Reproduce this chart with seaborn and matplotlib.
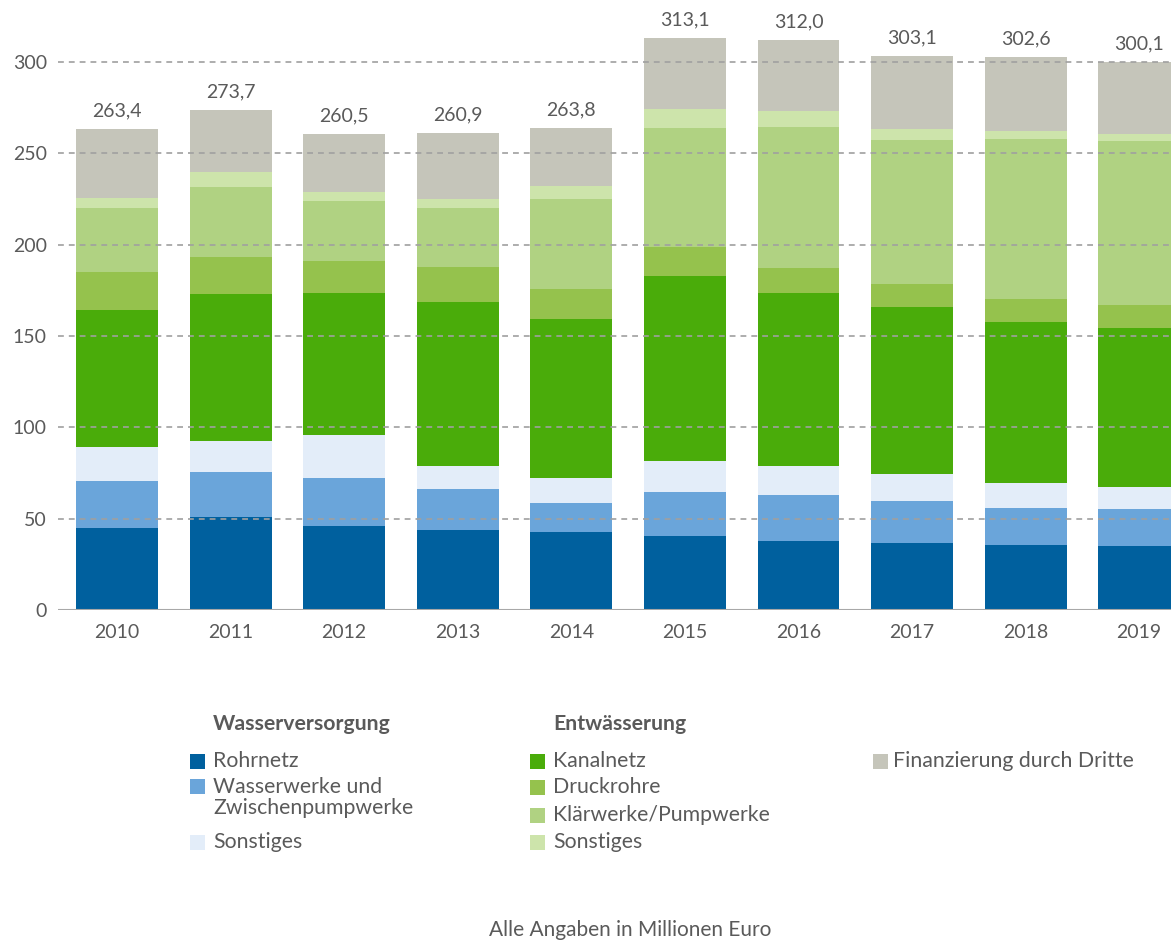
import matplotlib
matplotlib.use("Agg")
import matplotlib.pyplot as plt
import seaborn as sns
import numpy as np
import pandas as pd
from matplotlib.patches import Rectangle

years = ["2010", "2011", "2012", "2013", "2014", "2015", "2016", "2017", "2018", "2019"]
rohrnetz = [44.8, 50.8, 46.2, 43.9, 42.8, 40.6, 38.0, 36.5, 35.6, 34.9]
wasserwerke = [25.7, 25.0, 26.0, 22.6, 15.9, 23.9, 24.9, 23.4, 20.3, 20.5]
sonstiges_w = [18.7, 16.7, 23.4, 12.3, 13.8, 17.2, 16.0, 14.8, 13.7, 12.0]
kanalnetz = [75.3, 80.4, 78.0, 89.9, 86.9, 101.0, 94.9, 90.9, 87.9, 87.0]
druckrohre = [20.8, 20.3, 17.4, 19.2, 16.6, 15.9, 13.3, 12.6, 12.5, 12.6]
klaerwerke = [34.5, 38.5, 32.9, 31.9, 49.0, 65.5, 77.2, 79.3, 88.0, 89.6]
sonstiges_e = [5.7, 7.9, 5.1, 5.2, 7.3, 9.9, 8.6, 5.7, 4.2, 4.0]
dritte = [37.9, 34.1, 31.5, 35.9, 31.5, 39.1, 39.1, 39.9, 40.4, 39.5]
totals = [263.4, 273.7, 260.5, 260.9, 263.8, 313.1, 312.0, 303.1, 302.6, 300.1]
yticks = [0, 50, 100, 150, 200, 250, 300]

series_names = ["Rohrnetz", "Wasserwerke und\nZwischenpumpwerke", "Sonstiges",
                "Kanalnetz", "Druckrohre", "Klärwerke/Pumpwerke", "Sonstiges",
                "Finanzierung durch Dritte"]
series = [rohrnetz, wasserwerke, sonstiges_w, kanalnetz, druckrohre,
          klaerwerke, sonstiges_e, dritte]
colors = ["#00609e", "#6aa5da", "#e3edf9", "#4aac0a", "#95c24d",
          "#b0d282", "#cde4ab", "#c5c5ba"]

sns.set_theme(style="white")
plt.rcParams["font.family"] = ["Lato", "DejaVu Sans"]
text_col = "#5a5a5a"

fig = plt.figure(figsize=(11.71, 9.42), dpi=100)
ax = fig.add_axes([58 / 1171, 332 / 942, 1 - 58 / 1171, 610 / 942])

cum = np.cumsum(np.array(series), axis=0)
for i in reversed(range(len(series))):
    df = pd.DataFrame({"year": years, "value": cum[i]})
    sns.barplot(data=df, x="year", y="value", color=colors[i], width=0.72,
                saturation=1, linewidth=0, ax=ax, order=years, zorder=2)

for i, t in enumerate(totals):
    ax.annotate(f"{t:.1f}".replace(".", ","), (i, t), xytext=(0, 7),
                textcoords="offset points", ha="center", va="bottom",
                fontsize=14, color=text_col)

for v in yticks[1:]:
    ax.axhline(v, color="#a0a0a0", lw=1.2, ls=(0, (3.5, 3)), zorder=5)
ax.axhline(0, color="#a8a8a8", lw=1.5, zorder=5)

ax.set_xlim(-0.52, 9.28)
ax.set_ylim(0, 610 / 1.8267)
ax.set_yticks(yticks)
ax.set_yticklabels([str(v) for v in yticks])
ax.tick_params(axis="y", length=0, pad=8, labelsize=14, labelcolor=text_col)
ax.tick_params(axis="x", length=0, pad=10, labelsize=14, labelcolor=text_col)
ax.set_xlabel("")
ax.set_ylabel("")
for s in ax.spines.values():
    s.set_visible(False)

W, H = 1171, 942


def fx(x):
    return x / W


def fy(y):
    return 1 - y / H


def square(x, y, c):
    fig.patches.append(Rectangle((fx(x), fy(y + 7.5)), 15 / W, 15 / H,
                                 transform=fig.transFigure, color=c, lw=0))


fs = 15.3
fig.text(fx(213), fy(724), "Wasserversorgung", fontsize=fs, fontweight="bold",
         color=text_col, va="center", ha="left")
fig.text(fx(553), fy(724), "Entwässerung", fontsize=fs, fontweight="bold",
         color=text_col, va="center", ha="left")

# Wasserversorgung column
square(190, 761, colors[0])
fig.text(fx(213), fy(761), series_names[0], fontsize=fs, color=text_col, va="center")
square(190, 786, colors[1])
fig.text(fx(213), fy(787), "Wasserwerke und", fontsize=fs, color=text_col, va="center")
fig.text(fx(213), fy(808), "Zwischenpumpwerke", fontsize=fs, color=text_col, va="center")
square(190, 842, colors[2])
fig.text(fx(213), fy(842), series_names[2], fontsize=fs, color=text_col, va="center")

# Entwaesserung column
ent_rows = [761, 787, 815, 842]
for k, y in enumerate(ent_rows):
    square(530, y, colors[3 + k])
    fig.text(fx(553), fy(y), series_names[3 + k], fontsize=fs, color=text_col, va="center")

square(873, 761, colors[7])
fig.text(fx(893), fy(761), series_names[7], fontsize=fs, color=text_col, va="center")

fig.text(fx(630), fy(930), "Alle Angaben in Millionen Euro", fontsize=15,
         color=text_col, ha="center", va="center")

fig.savefig("out.png", dpi=100)
